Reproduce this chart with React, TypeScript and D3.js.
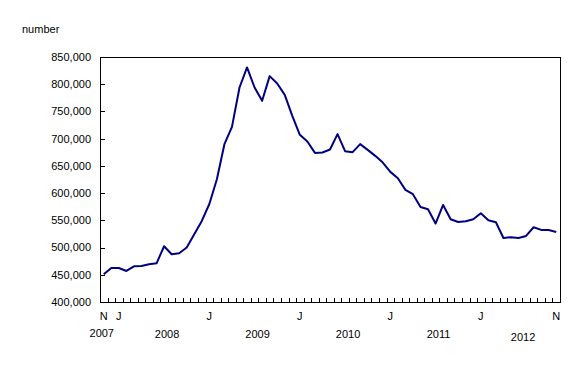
import React from "react";
import * as d3 from "d3";

// Monthly series, November 2007 to November 2012
const startMonth = new Date(2007, 10, 1);
const endMonth = new Date(2012, 11, 1);
const months: Date[] = d3.timeMonth.range(startMonth, endMonth);

const values: number[] = [
  451000, 462500, 462500, 457000, 465600, 466000, 469300, 471100, 502400, 487700,
  489500, 500000, 524400, 548900, 580000, 625500, 689900, 721700, 794000, 830800,
  794000, 769500, 814900, 801400, 780500, 741900, 707000, 694800, 673900, 674600,
  680100, 708300, 677000, 675200, 689900, 679400, 668400, 656200, 639000, 627400,
  605900, 598000, 574600, 570400, 544100, 578300, 552000, 547000, 548300, 552000,
  563000, 550200, 546500, 517600, 518900, 517600, 521300, 537300, 532400, 532400,
  528700,
];

const yTicks: number[] = [400000, 450000, 500000, 550000, 600000, 650000, 700000, 750000, 800000, 850000];

const monthLabelMonths: string[] = ["2007-11", "2008-01", "2009-01", "2010-01", "2011-01", "2012-01", "2012-11"];
const monthLabelTexts: string[] = ["N", "J", "J", "J", "J", "J", "N"];

const yearLabelMonths: string[] = ["2007-11", "2008-07", "2009-07", "2010-07", "2011-07", "2012-07"];
const yearLabelTexts: string[] = ["2007", "2008", "2009", "2010", "2011", "2012"];

const yAxisTitle = "number";

const W = 588;
const H = 380;
const M = { left: 100, right: 28, top: 57, bottom: 78 };
const FONT = "'Liberation Sans', Arial, sans-serif";

const key = (d: Date) => d3.timeFormat("%Y-%m")(d);

export default function App() {
  const keys = months.map(key);
  const x = d3
    .scaleBand<string>()
    .domain(keys)
    .range([M.left, W - M.right])
    .paddingInner(0)
    .paddingOuter(0);
  const y = d3
    .scaleLinear()
    .domain([400000, 850000])
    .range([H - M.bottom, M.top]);

  const cx = (k: string) => (x(k) ?? 0) + x.bandwidth() / 2;
  const line = d3
    .line<number>()
    .x((_, i) => cx(keys[i]))
    .y((v) => y(v));

  const x0 = M.left;
  const x1 = W - M.right;
  const y0 = H - M.bottom;
  const y1 = M.top;

  const boundaries = keys.slice(1).map((k) => x(k) ?? 0);

  return (
    <svg
      width={W}
      height={H}
      style={{ position: "absolute", left: 0, top: 0, background: "#fff" }}
      fontFamily={FONT}
      fontSize={11}
    >
      <rect x={0} y={0} width={W} height={H} fill="#fff" />
      <text x={22} y={33} fill="#000">
        {yAxisTitle}
      </text>

      {/* y ticks and labels */}
      {yTicks.map((t) => (
        <g key={t}>
          <line x1={x0} x2={x0 + 5} y1={Math.round(y(t)) + 0.5} y2={Math.round(y(t)) + 0.5} stroke="#000" />
          <text x={91} y={y(t)} dy="0.35em" textAnchor="end" fill="#000">
            {d3.format(",")(t)}
          </text>
        </g>
      ))}

      {/* x ticks at month boundaries */}
      {boundaries.map((b, i) => (
        <line
          key={i}
          x1={Math.round(b) + 0.5}
          x2={Math.round(b) + 0.5}
          y1={y0}
          y2={y0 - 4}
          stroke="#000"
        />
      ))}

      {/* frame */}
      <rect x={x0 + 0.5} y={y1 + 0.5} width={x1 - x0} height={y0 - y1} fill="none" stroke="#000" />

      {/* series */}
      <path d={line(values) ?? ""} fill="none" stroke="#000080" strokeWidth={2} strokeLinejoin="round" />

      {/* month labels */}
      {monthLabelMonths.map((m, i) => (
        <text key={m + i} x={cx(m)} y={320} textAnchor="middle" fill="#000">
          {monthLabelTexts[i]}
        </text>
      ))}

      {/* year labels */}
      {yearLabelMonths.map((m, i) => {
        const first = i === 0;
        const last = i === yearLabelMonths.length - 1;
        const dx = first ? -2 : last ? -3 : 3;
        const yy = first ? 337 : last ? 341 : 338;
        return (
          <text key={m} x={cx(m) + dx} y={yy} textAnchor="middle" fill="#000">
            {yearLabelTexts[i]}
          </text>
        );
      })}
    </svg>
  );
}
